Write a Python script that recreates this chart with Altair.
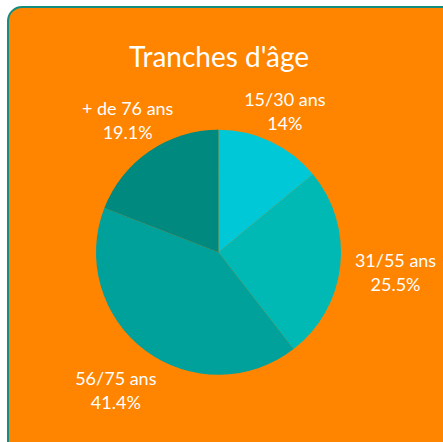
import altair as alt
import pandas as pd

categories = ["15/30 ans", "31/55 ans", "56/75 ans", "+ de 76 ans"]
values = [14, 25.5, 41.4, 19.1]
labels = ["14%", "25.5%", "41.4%", "19.1%"]
colors = ["#00C8D7", "#00B9B5", "#00A19B", "#00897F"]

df = pd.DataFrame({
    "cat": categories,
    "val": values,
    "order": list(range(len(categories))),
    "txt": [[c, l] for c, l in zip(categories, labels)],
})

CX, CY = 218.5, 252.3

bg = alt.Chart(pd.DataFrame({"a": [0]})).mark_rect(
    fill="#FF8400", stroke="#148C80", strokeWidth=2, cornerRadius=14
).encode(x=alt.value(8), x2=alt.value(480), y=alt.value(7), y2=alt.value(480))

title = alt.Chart(pd.DataFrame({"t": ["Tranches d'âge"]})).mark_text(
    font="Lato", fontSize=28, color="white", align="center", baseline="middle"
).encode(text="t:N", x=alt.value(219), y=alt.value(59))

pie = alt.Chart(df).mark_arc(outerRadius=122.5).encode(
    theta=alt.Theta("val:Q", stack=True),
    order=alt.Order("order:Q"),
    color=alt.Color("cat:N", scale=alt.Scale(domain=categories, range=colors), legend=None),
    x=alt.value(CX), y=alt.value(CY),
)

text = alt.Chart(df).transform_joinaggregate(total="sum(val)").transform_window(
    cum="sum(val)", sort=[alt.SortField("order")],
    frame=[None, 0],
).transform_calculate(
    mid="(datum.cum - datum.val/2) / datum.total * 2 * PI",
).transform_calculate(
    r="140 + 37 * abs(sin(datum.mid)) + 12 * max(0, -cos(datum.mid))",
).transform_calculate(
    px=f"{CX} + datum.r * sin(datum.mid)",
    py=f"{CY} - datum.r * cos(datum.mid)",
).mark_text(font="Lato", fontSize=18, align="center", dy=-10,
            baseline="middle", lineHeight=24, color="white").encode(
    text="txt",
    x=alt.X("px:Q", scale=None, axis=None),
    y=alt.Y("py:Q", scale=None, axis=None))

chart = alt.layer(bg, title, pie, text).properties(
    width=443, height=442, padding=0, background="white",
    autosize=alt.AutoSizeParams(type="none"),
).configure_view(stroke=None)

chart.save("out.html", embed_options={"renderer": "svg", "actions": False})
